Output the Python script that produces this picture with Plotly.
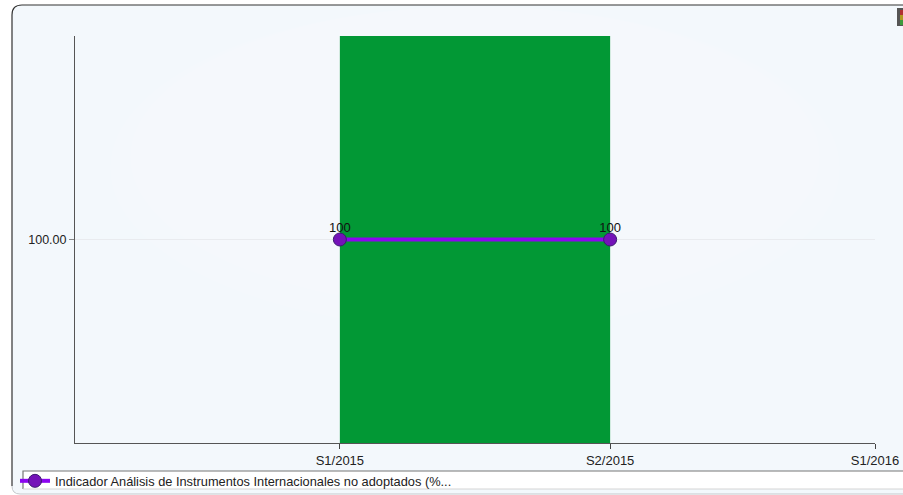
import plotly.graph_objects as go

# Data
tick_labels = ["S1/2015", "S2/2015", "S1/2016"]
tick_positions = [0, 1, 1.98]
series_name = "Indicador Análisis de Instrumentos Internacionales no adoptados (%..."
series_x = [0, 1]
series_y = [100, 100]
band_x = [0.5]
band_width = [1]
band_top = [200]

W, H = 903, 495
L, R, T, B = 75, 875, 36, 443
FONT = "Liberation Sans"


def px(x):
    return (x - L) / (R - L)


def py(y):
    return (B - y) / (B - T)


panel = (f"M {px(12)} {py(486)} Q {px(12)} {py(494)} {px(20)} {py(494)} L {px(904)} {py(494)} "
         f"L {px(904)} {py(5)} L {px(22)} {py(5)} Q {px(12)} {py(5)} {px(12)} {py(15)} Z")
outline_dark = (f"M {px(12)} {py(486)} L {px(12)} {py(15)} "
                f"Q {px(12)} {py(5)} {px(22)} {py(5)} L {px(904)} {py(5)}")
outline_soft = f"M {px(12)} {py(486)} Q {px(12)} {py(494)} {px(20)} {py(494)} L {px(904)} {py(494)}"

shapes = [dict(type="path", xref="paper", yref="paper", layer="below",
               path=panel, fillcolor="#f3f8fc", line=dict(width=0))]
# soft radial glow behind the plot
for i in range(14):
    shapes.append(dict(type="circle", xref="paper", yref="paper", layer="below",
                       x0=px(110 + i * 20), x1=px(840 - i * 20),
                       y0=py(6), y1=py(330 - i * 22),
                       fillcolor="rgba(255,255,255,0.09)", line=dict(width=0)))
shapes.append(dict(type="path", xref="paper", yref="paper", layer="below",
                   path=outline_dark, fillcolor="rgba(0,0,0,0)",
                   line=dict(color="#333333", width=1.2)))
shapes.append(dict(type="path", xref="paper", yref="paper", layer="below",
                   path=outline_soft, fillcolor="rgba(0,0,0,0)",
                   line=dict(color="#c4c8cc", width=1)))
# legend box
shapes.append(dict(type="rect", xref="paper", yref="paper", layer="below",
                   x0=px(23), x1=px(904), y0=py(471), y1=py(489),
                   fillcolor="#ffffff", line=dict(width=0)))
shapes.append(dict(type="path", xref="paper", yref="paper", layer="below",
                   path=f"M {px(23)} {py(489)} L {px(23)} {py(471)} L {px(904)} {py(471)}",
                   fillcolor="rgba(0,0,0,0)", line=dict(color="#777777", width=1.2)))
shapes.append(dict(type="path", xref="paper", yref="paper", layer="below",
                   path=f"M {px(23)} {py(489)} L {px(904)} {py(489)}",
                   fillcolor="rgba(0,0,0,0)", line=dict(color="#d4d4d4", width=1)))
# traffic-light icon
shapes.append(dict(type="rect", xref="paper", yref="paper", layer="above",
                   x0=px(897), x1=px(903), y0=py(8), y1=py(26),
                   fillcolor="#555555", line=dict(width=0)))
for y0, c in [(10, "#b03030"), (15, "#b09a20"), (20, "#3c9a3c")]:
    shapes.append(dict(type="rect", xref="paper", yref="paper", layer="above",
                       x0=px(900), x1=px(903), y0=py(y0), y1=py(y0 + 5),
                       fillcolor=c, line=dict(width=0)))

fig = go.Figure()
fig.add_trace(go.Bar(x=band_x, y=band_top, width=band_width,
                     marker=dict(color="#029835", line=dict(width=0)),
                     showlegend=False, hoverinfo="skip"))
fig.add_trace(go.Scatter(x=series_x, y=series_y, mode="lines+markers",
                         name=series_name,
                         line=dict(color="#8b06f0", width=4),
                         marker=dict(color="#7412b8", size=13,
                                     line=dict(color="#3c1a70", width=1))))
fig.add_trace(go.Scatter(x=series_x, y=series_y, mode="markers+text",
                         text=[str(v) for v in series_y],
                         textposition="top center",
                         textfont=dict(family=FONT, size=13, color="#111111"),
                         marker=dict(size=5, opacity=0),
                         showlegend=False, hoverinfo="skip"))

fig.update_layout(
    width=W, height=H, autosize=False,
    margin=dict(l=L, r=W - R, t=T, b=H - B, autoexpand=False),
    paper_bgcolor="#ffffff", plot_bgcolor="rgba(0,0,0,0)",
    font=dict(family=FONT, size=13, color="#222222"),
    shapes=shapes,
    showlegend=True,
    legend=dict(x=px(15), y=py(466), xanchor="left", yanchor="top",
                bgcolor="rgba(0,0,0,0)", borderwidth=0, itemwidth=30,
                font=dict(family=FONT, size=12.8, color="#222222")),
    xaxis=dict(range=[-0.98, 1.98], tickmode="array", tickvals=tick_positions,
               ticktext=tick_labels, ticks="outside", ticklen=5, tickwidth=1,
               tickcolor="#444444", showline=True, linecolor="#555555", linewidth=1,
               showgrid=False, zeroline=False, tickfont=dict(size=13, color="#222222")),
    yaxis=dict(range=[0, 200], tickmode="array", tickvals=[100], ticktext=["100.00"],
               ticks="outside", ticklen=5, tickwidth=1, tickcolor="#888888",
               showline=True, linecolor="#555555", linewidth=1,
               showgrid=True, gridcolor="#e9ebef", gridwidth=1, zeroline=False,
               tickfont=dict(size=12.5, color="#222222")),
)
fig.write_html("out.html", config={"displayModeBar": False},
               post_script="document.body.style.margin='0';document.documentElement.style.overflow='hidden';")
